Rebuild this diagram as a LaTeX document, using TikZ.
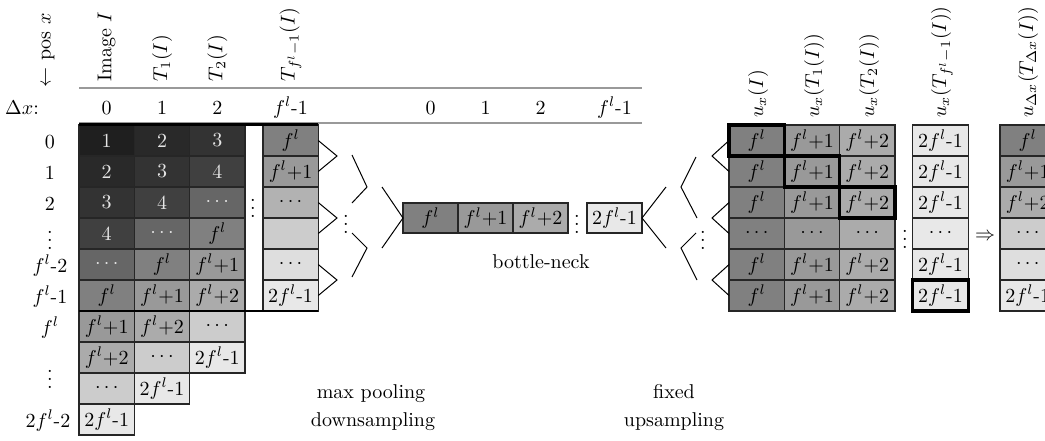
\documentclass[tikz,border=0pt]{standalone}
\usetikzlibrary{calc}
% grey levels of the cell values
\colorlet{vA}{black!88}
\colorlet{vB}{black!84}
\colorlet{vC}{black!80}
\colorlet{vD}{black!75}
\colorlet{vDots}{black!60}
\colorlet{vF}{black!50}
\colorlet{vFa}{black!40}
\colorlet{vFb}{black!33}
\colorlet{vMid}{black!30}
\colorlet{vE}{black!20}
\colorlet{vL}{black!13}
\colorlet{vTwo}{black!9}
\colorlet{light}{white!90!black}
\begin{document}
\begin{tikzpicture}[x=0.5pt,y=-0.5pt,
  cell/.style={draw=black!85,line width=0.6pt,minimum width=27.65pt,
    minimum height=15.5pt,inner sep=0pt,outer sep=0pt},
  hl/.style={draw=black,line width=1.6pt},
  tree/.style={line width=0.5pt},
  rule/.style={draw=black!40,line width=0.8pt},
  lbl/.style={inner sep=0pt,anchor=base},
  dots/.style={inner sep=0pt},
  vlbl/.style={inner sep=0pt,anchor=west,rotate=90}]
\useasboundingbox (0,0) rectangle (1045,440);
\clip (0,0) rectangle (1045,440);

% ---------- left part: shifted copies of the image ----------
\node[vlbl] (posx) at (48,88) {$\leftarrow$ pos $x$};
\node[vlbl] (tI)  at (106.7,82) {Image $I$};
\node[vlbl] (tT1) at (162,82) {$T_1(I)$};
\node[vlbl] (tT2) at (217.3,82) {$T_2(I)$};
\node[vlbl] (tTf) at (290.5,82) {$T_{f^l-1}(I)$};

\draw[rule] (79,88) -- (642,88);
\draw[rule] (79,123) -- (642,123);

\node[lbl] (dx) at (22,114) {$\Delta x$:};
\node[lbl] (h0) at (106.7,114) {0};
\node[lbl] (h1) at (162,114) {1};
\node[lbl] (h2) at (217.3,114) {2};
\node[lbl] (h3) at (290.5,114) {$f^l$-1};

% row labels
\node[lbl] (r0) at (50,148) {0};
\node[lbl] (r1) at (50,179) {1};
\node[lbl] (r2) at (50,210) {2};
\node[dots] (r3) at (50,234) {$\vdots$};
\node[lbl] (r4) at (50,272) {$f^l$-2};
\node[lbl] (r5) at (50,303) {$f^l$-1};
\node[lbl] (r6) at (50,334) {$f^l$};
\node[dots] (r7) at (50,373) {$\vdots$};
\node[lbl] (r9) at (48,427) {$2f^l$-2};

\foreach \r/\c/\f/\t/\s in {
  0/0/vA/light/1, 0/1/vB/light/2, 0/2/vC/light/3, 0/3/vF/black/{$f^l$},
  1/0/vB/light/2, 1/1/vC/light/3, 1/2/vD/light/4, 1/3/vFa/black/{$f^l$+1},
  2/0/vC/light/3, 2/1/vD/light/4, 2/2/vDots/light/{$\cdots$}, 2/3/vMid/black/{$\cdots$},
  3/0/vD/light/4, 3/1/vDots/light/{$\cdots$}, 3/2/vF/black/{$f^l$}, 3/3/vE/black/{},
  4/0/vDots/light/{$\cdots$}, 4/1/vF/black/{$f^l$}, 4/2/vFa/black/{$f^l$+1}, 4/3/vL/black/{$\cdots$},
  5/0/vF/black/{$f^l$}, 5/1/vFa/black/{$f^l$+1}, 5/2/vFb/black/{$f^l$+2}, 5/3/vTwo/black/{$2f^l$-1},
  6/0/vFa/black/{$f^l$+1}, 6/1/vFb/black/{$f^l$+2}, 6/2/vE/black/{$\cdots$},
  7/0/vFb/black/{$f^l$+2}, 7/1/vE/black/{$\cdots$}, 7/2/vTwo/black/{$2f^l$-1},
  8/0/vE/black/{$\cdots$}, 8/1/vTwo/black/{$2f^l$-1},
  9/0/vTwo/black/{$2f^l$-1}}
  \node[cell,fill=\f,text=\t] (L\r-\c) at ({106.7+55.3*\c+18*(\c>2)},{140.5+31*\r}) {\s};

\draw[line width=1.4pt] (79,124.5) -- (318,124.5);
\draw[line width=1.4pt] (79,311) -- (318,311);
\node[dots] (gapdots) at (253,202) {$\vdots$};

% ---------- max pooling tree ----------
\coordinate (pa) at (337,156);
\coordinate (pb) at (337,218);
\coordinate (pc) at (337,280);
\draw[tree] (L0-3.east) -- (pa) -- (L1-3.east);
\draw[tree] (L2-3.east) -- (pb) -- (L3-3.east);
\draw[tree] (L4-3.east) -- (pc) -- (L5-3.east);
\coordinate (qa1) at (352,155); \coordinate (qa) at (367,187); \coordinate (qa2) at (352,203);
\coordinate (qb1) at (352,233); \coordinate (qb) at (367,248); \coordinate (qb2) at (352,277);
\draw[tree] (qa1) -- (qa) -- (qa2);
\draw[tree] (qb1) -- (qb) -- (qb2);
\node[dots] (pdots) at (346,218) {$\vdots$};
\coordinate (ra1) at (382,187); \coordinate (ra2) at (382,248);

% ---------- bottle-neck ----------
\node[cell,minimum width=27.5pt,minimum height=15pt,fill=vF] (B1) at (430.5,218) {$f^l$};
\node[cell,minimum width=27.5pt,minimum height=15pt,fill=vFa] (B2) at (485.5,218) {$f^l$+1};
\node[cell,minimum width=27.5pt,minimum height=15pt,fill=vFb] (B3) at (540.5,218) {$f^l$+2};
\node[dots] (bdots) at (577,218) {$\vdots$};
\node[cell,minimum width=27.5pt,minimum height=15pt,fill=vTwo] (B4) at (614.5,218) {$2f^l$-1};
\draw[tree] (ra1) -- (B1.west) -- (ra2);
\node[lbl] (bh0) at (430.5,114) {0};
\node[lbl] (bh1) at (485.5,114) {1};
\node[lbl] (bh2) at (540.5,114) {2};
\node[lbl] (bh3) at (614.5,114) {$f^l$-1};
\node[lbl] (bn) at (541,268) {bottle-neck};

% ---------- fixed upsampling tree ----------
\coordinate (ua1) at (666,187); \coordinate (ua2) at (666,248);
\draw[tree] (ua1) -- (B4.east) -- (ua2);
\coordinate (va1) at (696,157); \coordinate (va) at (681,187); \coordinate (va2) at (697,218);
\coordinate (vb1) at (696,233); \coordinate (vb) at (681,248); \coordinate (vb2) at (697,280);
\draw[tree] (va1) -- (va) -- (va2);
\draw[tree] (vb1) -- (vb) -- (vb2);
\node[dots] (udots) at (703,234) {$\vdots$};
\coordinate (wa) at (712,156);
\coordinate (wb) at (712,218);
\coordinate (wc) at (712,280);

% ---------- right part: upsampled outputs ----------
\node[vlbl] (uI)  at (758,118) {$u_x(I)$};
\node[vlbl] (uT1) at (814,118) {$u_x(T_1(I))$};
\node[vlbl] (uT2) at (869,118) {$u_x(T_2(I))$};
\node[vlbl] (uTf) at (942,118) {$u_x(T_{f^l-1}(I))$};
\node[vlbl] (uTd) at (1028,118) {$u_{\Delta x}(T_{\Delta x}(I))$};

\foreach \r in {0,1,2,4,5}{
  \node[cell,fill=vF] (R\r-0) at (756.7,{140.5+31*\r}) {$f^l$};
  \node[cell,fill=vFa] (R\r-1) at (812,{140.5+31*\r}) {$f^l$+1};
  \node[cell,fill=vFb] (R\r-2) at (867.3,{140.5+31*\r}) {$f^l$+2};
  \node[cell,fill=vTwo] (R\r-3) at (940.5,{140.5+31*\r}) {$2f^l$-1};
}
\node[cell,fill=vF] (R3-0) at (756.7,233.5) {$\cdots$};
\node[cell,fill=vFa] (R3-1) at (812,233.5) {$\cdots$};
\node[cell,fill=vFb] (R3-2) at (867.3,233.5) {$\cdots$};
\node[cell,fill=vTwo] (R3-3) at (940.5,233.5) {$\cdots$};
\node[dots] (rdots) at (905,233) {$\vdots$};

\draw[tree] (R0-0.west) -- (wa) -- (R1-0.west);
\draw[tree] (R2-0.west) -- (wb) -- (R3-0.west);
\draw[tree] (R4-0.west) -- (wc) -- (R5-0.west);

\foreach \n in {R0-0,R1-1,R2-2,R5-3}
  \draw[hl] (\n.north west) rectangle (\n.south east);

\node[dots] (imp) at (985,237) {$\Rightarrow$};
\foreach \r/\f/\s in {0/vF/{$f^l$},1/vFa/{$f^l$+1},2/vFb/{$f^l$+2},3/vE/{$\cdots$},4/vL/{$\cdots$},5/vTwo/{$2f^l$-1}}
  \node[cell,fill=\f] (S\r) at (1027.7,{140.5+31*\r}) {\s};

% ---------- captions ----------
\node[lbl] (mp) at (371,398) {max pooling};
\node[lbl] (ds) at (373,426) {downsampling};
\node[lbl] (fx) at (674,398) {fixed};
\node[lbl] (us) at (674,426) {upsampling};
\end{tikzpicture}
\end{document}
